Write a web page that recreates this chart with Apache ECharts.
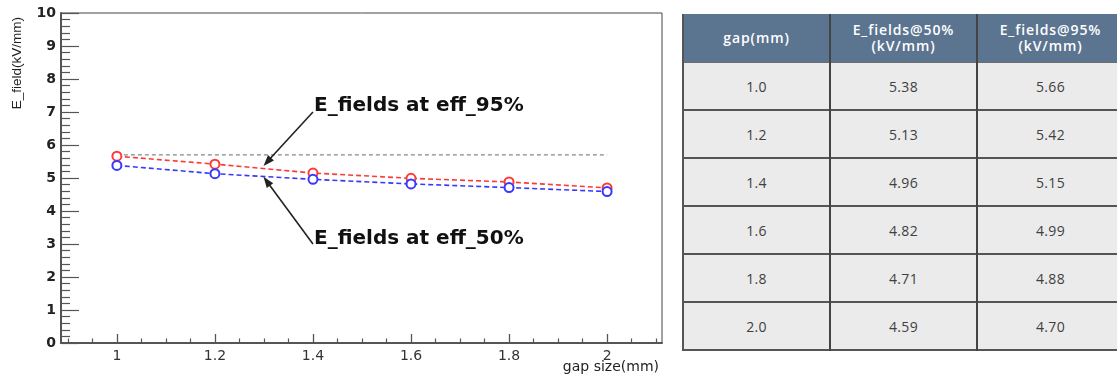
<!DOCTYPE html>
<html>
<head>
<meta charset="utf-8">
<script src="https://cdn.jsdelivr.net/npm/echarts@6/dist/echarts.min.js"></script>
<style>
  html, body { margin: 0; padding: 0; background: #fff; }
  #wrap { position: relative; width: 1117px; height: 378px; overflow: hidden; }
  #chart { position: absolute; left: 0; top: 0; width: 1117px; height: 378px; }
  #table { position: absolute; left: 0; top: 0; width: 1117px; height: 378px; pointer-events: none;
           font-family: "Open Sans", "Noto Sans", sans-serif; }
  .bg, .ln, .cell { position: absolute; box-sizing: border-box; }
  .cell { display: flex; align-items: center; justify-content: center; text-align: center; white-space: pre; }
  .head { color: #fff; font-size: 14px; font-weight: 600; letter-spacing: 0.9px; line-height: 16px; }
  .body { color: #3f3f3f; font-size: 14px; letter-spacing: 0.3px; }
</style>
</head>
<body>
<div id="wrap">
  <div id="chart"></div>
  <div id="table"></div>
</div>
<script>
// Measured breakdown fields for each gap size
const gaps = [1.0, 1.2, 1.4, 1.6, 1.8, 2.0];
const field50 = [5.38, 5.13, 4.96, 4.82, 4.71, 4.59];
const field95 = [5.66, 5.42, 5.15, 4.99, 4.88, 4.70];

// Axis ticks
const xTickValues = [1, 1.2, 1.4, 1.6, 1.8, 2];
const xMinorTickValues = [0.9, 0.95, 1.05, 1.1, 1.15, 1.25, 1.3, 1.35, 1.45, 1.5, 1.55,
                          1.65, 1.7, 1.75, 1.85, 1.9, 1.95, 2.05, 2.1];

// Reference level and annotation arrows (data coordinates)
const referenceLevel = 5.7;
const referenceRange = [1, 2];
const arrow95 = { from: [1.4, 7.0], to: [1.3067, 5.49] };
const arrow50 = { from: [1.4, 3.0], to: [1.3057, 4.90] };
const annotation95 = 'E_fields at eff_95%';
const annotation50 = 'E_fields at eff_50%';

// Table texts
const tableHeader = ['gap(mm)', 'E_fields@50%\n(kV/mm)', 'E_fields@95%\n(kV/mm)'];

const axisFont = 'DejaVu Sans';
const chart = echarts.init(document.getElementById('chart'));

chart.setOption({
  animation: false,
  grid: { left: 61, right: 455, top: 13, bottom: 35, show: true,
          borderColor: '#444', borderWidth: 1, backgroundColor: 'transparent' },
  xAxis: [
    {
      type: 'value', min: 0.886, max: 2.112, position: 'bottom',
      axisLine: { onZero: false, lineStyle: { color: '#555', width: 2 } },
      axisTick: { inside: true, length: 9, customValues: xTickValues,
                  lineStyle: { color: '#555', width: 1.3 } },
      axisLabel: { customValues: xTickValues, formatter: v => String(v),
                   fontFamily: axisFont, fontSize: 14, color: '#333', margin: 6 },
      splitLine: { show: false }
    },
    {
      type: 'value', min: 0.886, max: 2.112, position: 'bottom',
      axisLine: { show: false },
      axisTick: { inside: true, length: 4.5, customValues: xMinorTickValues,
                  lineStyle: { color: '#555', width: 1.2 } },
      axisLabel: { show: false },
      splitLine: { show: false }
    }
  ],
  yAxis: {
    type: 'value', min: 0, max: 10, interval: 1,
    axisLine: { show: true, onZero: false, lineStyle: { color: '#555', width: 2 } },
    axisTick: { show: true, inside: true, length: 18, lineStyle: { color: '#555', width: 1.2 } },
    minorTick: { show: true, splitNumber: 5, length: 9, lineStyle: { color: '#555', width: 1.2 } },
    axisLabel: { fontFamily: axisFont, fontWeight: 'bold', fontSize: 14, color: '#222', margin: 5 },
    splitLine: { show: false }
  },
  series: [
    {
      name: 'reference', type: 'line', silent: true,
      data: referenceRange.map(x => [x, referenceLevel]),
      symbol: 'none',
      lineStyle: { color: '#6a6a6a', width: 1, type: [4, 3] },
      markLine: {
        silent: true, animation: false,
        symbol: ['none', 'triangle'], symbolSize: [8, 11],
        label: { show: false },
        lineStyle: { color: '#222', width: 1.6, type: 'solid' },
        emphasis: { disabled: true },
        data: [
          [{ coord: arrow95.from }, { coord: arrow95.to }],
          [{ coord: arrow50.from }, { coord: arrow50.to }]
        ]
      }
    },
    {
      name: 'E_fields@95%', type: 'line',
      data: gaps.map((g, i) => [g, field95[i]]),
      symbol: 'emptyCircle', symbolSize: 9,
      lineStyle: { color: '#ff3838', width: 1.6, type: [5, 3] },
      itemStyle: { color: '#ff3838', borderWidth: 1.3 }
    },
    {
      name: 'E_fields@50%', type: 'line',
      data: gaps.map((g, i) => [g, field50[i]]),
      symbol: 'emptyCircle', symbolSize: 9,
      lineStyle: { color: '#3838ff', width: 1.6, type: [5, 3] },
      itemStyle: { color: '#3838ff', borderWidth: 1.3 }
    }
  ]
});

// Axis titles and arrow captions
const p95 = chart.convertToPixel({ gridIndex: 0 }, arrow95.from);
const p50 = chart.convertToPixel({ gridIndex: 0 }, arrow50.from);
const captionStyle = { fontFamily: axisFont, fontWeight: 'bold', fontSize: 20, fill: '#111',
                       align: 'left', verticalAlign: 'middle' };
chart.setOption({
  graphic: [
    { type: 'text', x: 17, y: 17, rotation: Math.PI / 2, silent: true,
      style: { text: 'E_field(kV/mm)', fontFamily: 'Liberation Sans', fontSize: 13.5,
               fill: '#222', align: 'right', verticalAlign: 'middle' } },
    { type: 'text', x: 659, y: 367, silent: true,
      style: { text: 'gap size(mm)', fontFamily: axisFont, fontSize: 14,
               fill: '#222', align: 'right', verticalAlign: 'middle' } },
    { type: 'text', x: p95[0] + 1, y: p95[1] - 6, silent: true,
      style: Object.assign({ text: annotation95 }, captionStyle) },
    { type: 'text', x: p50[0] + 1, y: p50[1] - 5, silent: true,
      style: Object.assign({ text: annotation50 }, captionStyle) }
  ]
});

// Data table beside the plot
(function buildTable() {
  const host = document.getElementById('table');
  const colLeft = [683, 830, 977];
  const colWidth = 147;
  const top = 14, headH = 48, rowH = 48;
  const add = (cls, css, text) => {
    const d = document.createElement('div');
    d.className = cls;
    Object.assign(d.style, css);
    if (text !== undefined) d.textContent = text;
    host.appendChild(d);
    return d;
  };
  const totalW = colWidth * 3;
  const bodyTop = top + headH;
  const bottom = bodyTop + rowH * gaps.length;
  add('bg', { left: colLeft[0] + 'px', top: top + 'px', width: totalW + 'px', height: headH + 'px', background: '#5b7490' });
  add('bg', { left: colLeft[0] + 'px', top: bodyTop + 'px', width: totalW + 'px', height: (bottom - bodyTop) + 'px', background: '#ebebeb' });

  tableHeader.forEach((h, c) => {
    add('cell head', { left: colLeft[c] + 'px', top: top + 'px', width: colWidth + 'px', height: headH + 'px' }, h);
  });
  const rows = gaps.map((g, i) => [g.toFixed(1), field50[i].toFixed(2), field95[i].toFixed(2)]);
  rows.forEach((r, i) => {
    r.forEach((t, c) => {
      add('cell body', { left: colLeft[c] + 'px', top: (bodyTop + i * rowH) + 'px', width: colWidth + 'px', height: rowH + 'px' }, t);
    });
  });

  // grid lines
  add('ln', { left: colLeft[0] + 'px', top: bodyTop + 'px', width: totalW + 'px', height: '1px', background: '#6f6f6f' });
  for (let i = 1; i <= gaps.length; i++) {
    add('ln', { left: colLeft[0] + 'px', top: (bodyTop + i * rowH - 1) + 'px', width: totalW + 'px', height: '2px', background: '#555' });
  }
  add('ln', { left: (colLeft[0] - 1) + 'px', top: top + 'px', width: '2px', height: (bottom - top + 1) + 'px', background: '#555' });
  [colLeft[1], colLeft[2]].forEach(x => {
    add('ln', { left: (x - 1) + 'px', top: top + 'px', width: '2px', height: (bottom - top + 1) + 'px', background: '#444' });
  });
})();
</script>
</body>
</html>
